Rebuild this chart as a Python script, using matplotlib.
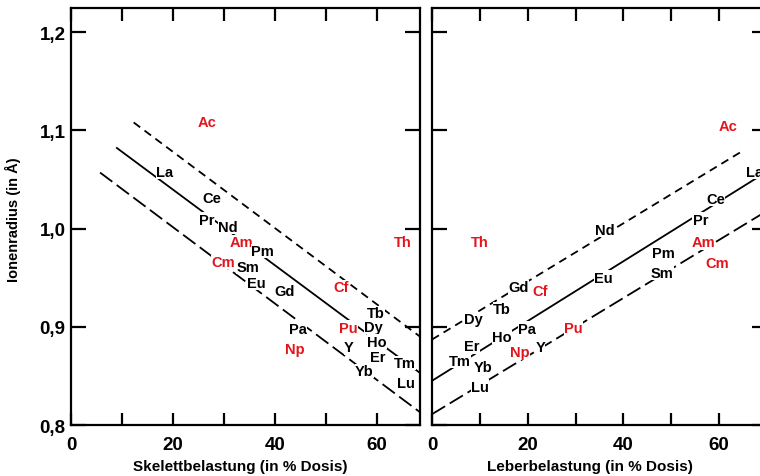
import numpy as np
import matplotlib.pyplot as plt
from matplotlib.ticker import MultipleLocator, FuncFormatter

plt.rcParams['font.family'] = ['Liberation Sans', 'DejaVu Sans']
plt.rcParams['font.weight'] = 'bold'

RED = '#e3141c'

# --- Skelett (left panel) ---
skel_names = ['Ac', 'La', 'Ce', 'Pr', 'Nd', 'Am', 'Pm', 'Cm', 'Sm', 'Eu', 'Gd', 'Cf', 'Th',
              'Tb', 'Pa', 'Pu', 'Dy', 'Ho', 'Np', 'Y', 'Er', 'Tm', 'Yb', 'Lu']
skel_x = [26.7, 18.4, 27.6, 26.7, 30.8, 33.5, 37.6, 29.9, 34.7, 36.3, 42.0, 53.1, 65.1,
          59.8, 44.5, 54.5, 59.4, 60.0, 43.9, 54.5, 60.2, 65.5, 57.6, 65.7]
skel_y = [1.108, 1.058, 1.031, 1.009, 1.002, 0.986, 0.977, 0.966, 0.961, 0.945, 0.936, 0.940, 0.986,
          0.914, 0.898, 0.899, 0.900, 0.885, 0.877, 0.879, 0.869, 0.863, 0.855, 0.843]
skel_red = ['Ac', 'Am', 'Cm', 'Cf', 'Th', 'Pu', 'Np']

# line ends (x, y) for upper short-dash, solid, long-dash
skel_upper = ([12.3, 68.5], [1.108, 0.890])
skel_mid = ([9.0, 68.5], [1.082, 0.853])
skel_lower = ([5.7, 68.5], [1.057, 0.813])

# --- Leber (right panel) ---
leber_names = ['Ac', 'La', 'Ce', 'Pr', 'Nd', 'Th', 'Am', 'Cm', 'Pm', 'Sm', 'Eu', 'Gd', 'Cf',
               'Tb', 'Dy', 'Pa', 'Ho', 'Pu', 'Er', 'Np', 'Y', 'Tm', 'Yb', 'Lu']
leber_x = [61.9, 67.4, 59.2, 56.1, 36.2, 10.0, 56.7, 59.6, 48.3, 48.1, 35.8, 18.0, 22.6,
           14.6, 8.6, 19.9, 14.6, 29.5, 8.4, 18.4, 22.6, 5.9, 10.7, 10.0]
leber_y = [1.104, 1.058, 1.030, 1.009, 0.999, 0.986, 0.986, 0.965, 0.975, 0.955, 0.950, 0.940, 0.936,
           0.918, 0.908, 0.898, 0.890, 0.899, 0.880, 0.874, 0.879, 0.865, 0.859, 0.839]

leber_upper = ([0, 64.9], [0.887, 1.079])
leber_mid = ([0, 70], [0.845, 1.058])
leber_lower = ([0, 70], [0.811, 1.018])

fig = plt.figure(figsize=(7.6, 4.77), dpi=100)
ax1 = fig.add_axes([71/760, 1-426/477, 349/760, 417/477])
ax2 = fig.add_axes([432/760, 1-426/477, 335/760, 417/477])


def style(ax, xmax):
    ax.set_xlim(0, xmax)
    ax.set_ylim(0.8, 1.2245)
    for s in ax.spines.values():
        s.set_linewidth(1.6)
    ax.xaxis.set_major_locator(MultipleLocator(10))
    ax.yaxis.set_major_locator(MultipleLocator(0.1))
    ax.xaxis.set_major_formatter(FuncFormatter(lambda v, p: f'{v:.0f}' if round(v) % 20 == 0 else ''))
    ax.tick_params(direction='in', top=True, right=True, width=1.6, labelsize=13.5)
    ax.tick_params(axis='x', length=9, pad=8)
    ax.tick_params(axis='y', length=11, pad=4)


def draw(ax, names, xs, ys, upper, mid, lower):
    ax.plot(*upper, color='black', lw=1.3, dashes=(4.5, 3))
    ax.plot(*mid, color='black', lw=1.3)
    ax.plot(*lower, color='black', lw=1.3, dashes=(8.5, 3))
    for n, x, y in zip(names, xs, ys):
        ax.text(x, y, n, ha='center', va='center', fontsize=10.5, fontweight='bold',
                color=RED if n in skel_red else 'black',
                bbox=dict(facecolor='white', edgecolor='none', pad=0.2))


style(ax1, 68.5)
style(ax2, 70)
draw(ax1, skel_names, skel_x, skel_y, skel_upper, skel_mid, skel_lower)
draw(ax2, leber_names, leber_x, leber_y, leber_upper, leber_mid, leber_lower)

ax1.yaxis.set_major_formatter(FuncFormatter(lambda v, p: f'{v:.1f}'.replace('.', ',')))
ax2.tick_params(labelleft=False)

ax1.set_ylabel('Ionenradius (in Å)', fontsize=10.5, fontweight='bold')
ax1.yaxis.set_label_coords(-50/349, (426-220)/417)
ax1.set_xlabel('Skelettbelastung (in % Dosis)', fontsize=11, fontweight='bold')
ax2.set_xlabel('Leberbelastung (in % Dosis)', fontsize=11, fontweight='bold')
ax1.xaxis.set_label_coords((240-71)/349, -0.082)
ax2.xaxis.set_label_coords((590-432)/335, -0.082)

fig.savefig('out.png', dpi=100)
